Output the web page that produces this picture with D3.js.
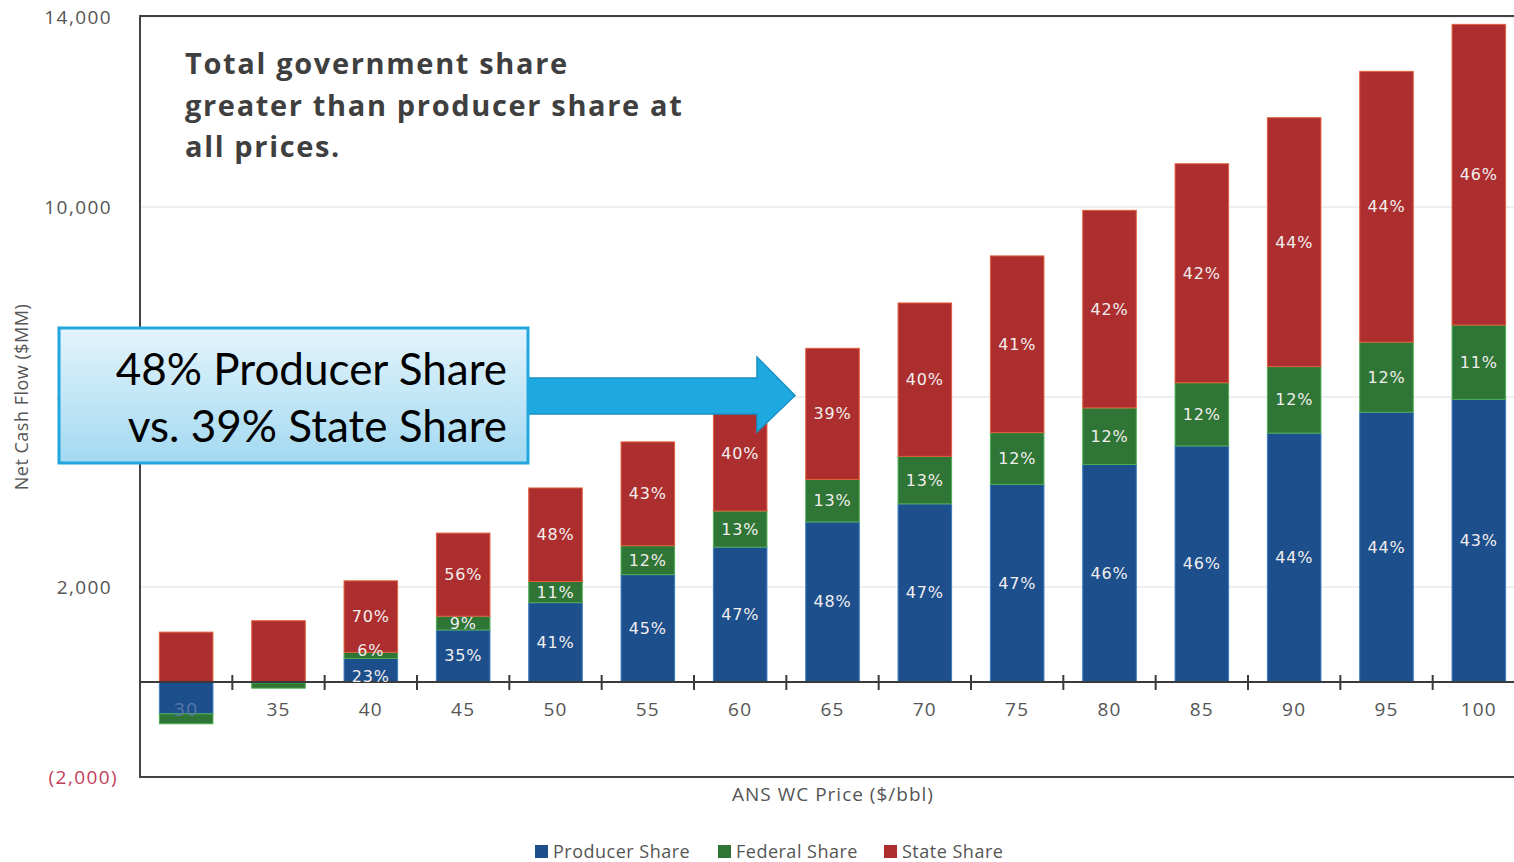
<!DOCTYPE html>
<html>
<head>
<meta charset="utf-8">
<script src="https://cdn.jsdelivr.net/npm/d3@7/dist/d3.min.js"></script>
<style>
body { margin: 0; background: #fff; }
svg { display: block; }
</style>
</head>
<body>
<svg width="1514" height="862"></svg>
<script>
// values, $MM
var prices = ["30", "35", "40", "45", "50", "55", "60", "65", "70", "75", "80", "85", "90", "95", "100"];
var producer = [-670, -20, 495, 1095, 1670, 2260, 2840, 3370, 3750, 4160, 4580, 4970, 5240, 5680, 5950];
var federal = [-210, -110, 130, 290, 445, 610, 760, 895, 1000, 1090, 1190, 1330, 1400, 1475, 1565];
var state = [1050, 1290, 1505, 1750, 1970, 2185, 2410, 2760, 3230, 3720, 4160, 4610, 5240, 5700, 6330];

// printed share labels
var producerPct = [null, null, "23%", "35%", "41%", "45%", "47%", "48%", "47%", "47%", "46%", "46%", "44%", "44%", "43%"];
var federalPct = [null, null, "6%", "9%", "11%", "12%", "13%", "13%", "13%", "12%", "12%", "12%", "12%", "12%", "11%"];
var statePct = [null, null, "70%", "56%", "48%", "43%", "40%", "39%", "40%", "41%", "42%", "42%", "44%", "44%", "46%"];

var yTicks = [-2000, 2000, 6000, 10000, 14000];
var seriesNames = ["Producer Share", "Federal Share", "State Share"];
var keys = ["producer", "federal", "state"];
var colors = {producer: "#1c4f8c", federal: "#2f7535", state: "#ad2e2f"};
var edges = {producer: "#3b7cc2", federal: "#4fae55", state: "#e2603c"};

var svg = d3.select("svg"),
    width = +svg.attr("width"),
    height = +svg.attr("height");

var plotLeft = 140, plotTop = 16, plotBottom = 777;

var x = d3.scaleBand()
    .domain(prices)
    .range([plotLeft, 1525])
    .paddingInner(0.42)
    .paddingOuter(0.21);

var y = d3.scaleLinear()
    .domain([-2000, 14000])
    .range([plotBottom, plotTop + 1]);

var rows = prices.map(function(p, i) {
  return {price: p, producer: producer[i], federal: federal[i], state: state[i],
          pct: {producer: producerPct[i], federal: federalPct[i], state: statePct[i]}};
});

var stack = d3.stack().keys(keys).offset(d3.stackOffsetDiverging);
var layers = stack(rows);

// gridlines
svg.append("g")
  .selectAll("line")
  .data(yTicks)
  .enter().append("line")
    .attr("x1", plotLeft).attr("x2", width)
    .attr("y1", function(d) { return y(d); })
    .attr("y2", function(d) { return y(d); })
    .attr("stroke", "#e9e9e9")
    .attr("stroke-width", 1.5);

// y axis labels
var yAxis = svg.append("g")
    .attr("transform", "translate(" + plotLeft + ",0)")
    .call(d3.axisLeft(y).tickValues(yTicks).tickSize(0).tickPadding(28)
      .tickFormat(function(d) { return d < 0 ? "(" + d3.format(",")(-d) + ")" : d3.format(",")(d); }));
yAxis.select(".domain").remove();
yAxis.selectAll("text")
    .attr("font-family", "Open Sans")
    .attr("font-size", 19)
    .attr("letter-spacing", 1.4)
    .attr("fill", function(d) { return d < 0 ? "#c2405a" : "#555"; })
    .attr("dx", function(d) { return d < 0 ? 6 : 0; });

// frame
svg.append("path")
    .attr("d", "M" + width + "," + plotTop + "H" + plotLeft + "V" + plotBottom + "H" + width)
    .attr("fill", "none")
    .attr("stroke", "#444")
    .attr("stroke-width", 2);

// bars
var layer = svg.append("g").selectAll("g")
  .data(layers)
  .enter().append("g")
    .attr("fill", function(d) { return colors[d.key]; })
    .attr("stroke", function(d) { return edges[d.key]; });

layer.selectAll("rect")
  .data(function(d) { return d; })
  .enter().append("rect")
    .attr("x", function(d) { return x(d.data.price); })
    .attr("width", x.bandwidth())
    .attr("y", function(d) { return y(Math.max(d[0], d[1])); })
    .attr("height", function(d) { return Math.abs(y(d[0]) - y(d[1])); })
    .attr("stroke-width", 1);

// zero line with ticks between categories
var y0 = y(0);
svg.append("line")
    .attr("x1", plotLeft).attr("x2", width)
    .attr("y1", y0).attr("y2", y0)
    .attr("stroke", "#3a3a3a")
    .attr("stroke-width", 2);

svg.append("g").selectAll("line")
  .data(prices.slice(1))
  .enter().append("line")
    .attr("x1", function(d) { return x(d) - (x.step() - x.bandwidth()) / 2; })
    .attr("x2", function(d) { return x(d) - (x.step() - x.bandwidth()) / 2; })
    .attr("y1", y0 - 7).attr("y2", y0 + 8)
    .attr("stroke", "#3a3a3a")
    .attr("stroke-width", 2);

// category labels
var xAxis = svg.append("g")
    .attr("transform", "translate(0," + y0 + ")")
    .call(d3.axisBottom(x).tickSize(0).tickPadding(21));
xAxis.select(".domain").remove();
xAxis.selectAll("text")
    .attr("font-family", "Open Sans")
    .attr("font-size", 19)
    .attr("letter-spacing", 1.2)
    .attr("fill", function(d, i) { return producer[i] < -300 ? "#5d77aa" : "#555"; });

// share labels on top of all segments; when the federal slice is too thin,
// push its label up and the producer label down so they don't collide
function labelY(d) {
  var c = (y(d.s[0]) + y(d.s[1])) / 2;
  var fedH = Math.abs(y(0) - y(d.s.data.federal));
  if (fedH < 10) {
    if (d.key === "federal") c -= 5;
    if (d.key === "producer") c += 6;
  }
  return c;
}

var labels = [];
layers.forEach(function(l) {
  l.forEach(function(s) {
    if (s.data.pct[l.key]) labels.push({s: s, key: l.key});
  });
});

svg.append("g").selectAll("text")
  .data(labels)
  .enter().append("text")
    .attr("x", function(d) { return x(d.s.data.price) + x.bandwidth() / 2; })
    .attr("y", labelY)
    .attr("text-anchor", "middle")
    .attr("dominant-baseline", "central")
    .attr("font-family", "DejaVu Sans")
    .attr("font-size", 16)
    .attr("letter-spacing", 0.8)
    .attr("fill", "#f2eeee")
    .text(function(d) { return d.s.data.pct[d.key]; });

// axis titles
svg.append("text")
    .attr("x", 833).attr("y", 801)
    .attr("text-anchor", "middle")
    .attr("font-family", "Open Sans")
    .attr("font-size", 19)
    .attr("letter-spacing", 1)
    .attr("fill", "#555")
    .text("ANS WC Price ($/bbl)");

svg.append("text")
    .attr("transform", "translate(28,397) rotate(-90)")
    .attr("text-anchor", "middle")
    .attr("font-family", "Open Sans")
    .attr("font-size", 18)
    .attr("letter-spacing", 0.5)
    .attr("fill", "#555")
    .text("Net Cash Flow ($MM)");

// legend
var legendX = [535, 718, 884];
var legend = svg.append("g").selectAll("g")
  .data(keys)
  .enter().append("g")
    .attr("transform", function(d, i) { return "translate(" + legendX[i] + ",845)"; });
legend.append("rect")
    .attr("width", 13).attr("height", 13)
    .attr("fill", function(d) { return colors[d]; });
legend.append("text")
    .attr("x", 18).attr("y", 13)
    .attr("font-family", "Open Sans")
    .attr("font-size", 18)
    .attr("letter-spacing", 0.5)
    .attr("fill", "#555")
    .text(function(d, i) { return seriesNames[i]; });

// note
var note = ["Total government share", "greater than producer share at", "all prices."];
svg.append("g").selectAll("text")
  .data(note)
  .enter().append("text")
    .attr("x", 185)
    .attr("y", function(d, i) { return 74 + i * 41.5; })
    .attr("font-family", "Open Sans")
    .attr("font-weight", "bold")
    .attr("font-size", 29)
    .attr("letter-spacing", 1.65)
    .attr("fill", "#3f3f3f")
    .text(function(d) { return d; });

// callout box + arrow
var defs = svg.append("defs");
var grad = defs.append("linearGradient")
    .attr("id", "boxfill")
    .attr("x1", 0).attr("y1", 0).attr("x2", 0).attr("y2", 1);
grad.append("stop").attr("offset", "0%").attr("stop-color", "#e3f4fc");
grad.append("stop").attr("offset", "100%").attr("stop-color", "#a3d9f1");

svg.append("path")
    .attr("d", "M526,378H757V357L795,395.5L757,432V414H526Z")
    .attr("fill", "#1eaae0")
    .attr("stroke", "#1791c6")
    .attr("stroke-width", 1.5);

svg.append("rect")
    .attr("x", 59).attr("y", 328)
    .attr("width", 469).attr("height", 135)
    .attr("fill", "url(#boxfill)")
    .attr("stroke", "#21a7de")
    .attr("stroke-width", 3);

var callout = ["48% Producer Share", "vs. 39% State Share"];
svg.append("g").selectAll("text")
  .data(callout)
  .enter().append("text")
    .attr("x", 507)
    .attr("y", function(d, i) { return 385 + i * 57; })
    .attr("text-anchor", "end")
    .attr("font-family", "Lato")
    .attr("font-size", 44)
    .attr("fill", "#000")
    .text(function(d) { return d; });
</script>
</body>
</html>
